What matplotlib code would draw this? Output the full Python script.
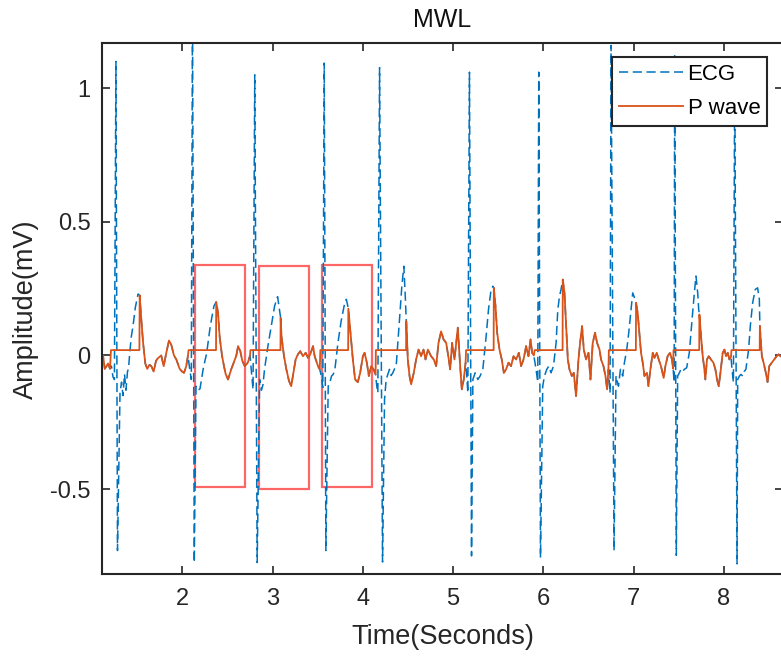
import matplotlib
matplotlib.use("Agg")
import matplotlib.pyplot as plt
from matplotlib.patches import Rectangle
import numpy as np

plt.rcParams['font.family'] = ['Liberation Sans', 'DejaVu Sans']
plt.rcParams['axes.unicode_minus'] = False

# ECG samples (seconds, mV), one line per beat roughly
ecg_t = [1.100, 1.122, 1.141, 1.161, 1.177, 1.199, 1.215, 1.232, 1.248, 1.265, 1.282, 1.310, 1.327, 1.343, 1.360, 1.376, 1.393, 1.404, 1.418, 1.435, 1.454, 1.480, 1.510, 1.528, 1.545, 1.565, 1.590, 1.612, 1.637, 1.657, 1.683, 1.709, 1.731, 1.767, 1.794, 1.823, 1.853, 1.878, 1.908, 1.934, 1.971, 1.997, 2.019, 2.044, 2.063, 2.082, 2.100,
         2.113, 2.133, 2.152, 2.174, 2.196, 2.213, 2.232, 2.251, 2.271, 2.291, 2.306, 2.329, 2.351, 2.376, 2.396, 2.414, 2.440, 2.462, 2.481, 2.507, 2.544, 2.570, 2.599, 2.618, 2.643, 2.665, 2.692, 2.726, 2.751, 2.766, 2.784,
         2.803, 2.830, 2.857, 2.877, 2.894, 2.912, 2.949, 2.986, 3.023, 3.056, 3.090, 3.100, 3.126, 3.152, 3.182, 3.207, 3.226, 3.256, 3.281, 3.307, 3.337, 3.367, 3.393, 3.418, 3.449, 3.467, 3.504, 3.523, 3.543, 3.557,
         3.573, 3.591, 3.617, 3.636, 3.654, 3.674, 3.691, 3.724, 3.761, 3.802, 3.818, 3.840, 3.864, 3.890, 3.915, 3.945, 3.971, 4.001, 4.020, 4.045, 4.067, 4.093, 4.119, 4.142, 4.155, 4.167,
         4.186, 4.219, 4.241, 4.259, 4.278, 4.296, 4.314, 4.333, 4.352, 4.370, 4.389, 4.407, 4.433, 4.455, 4.471, 4.482, 4.499, 4.518, 4.536, 4.565, 4.591, 4.618, 4.646, 4.673, 4.695, 4.721, 4.757, 4.787, 4.813, 4.839, 4.868, 4.895, 4.924, 4.953, 4.968, 4.990, 5.016, 5.036, 5.053, 5.079, 5.097, 5.119, 5.139, 5.153, 5.164,
         5.182, 5.205, 5.220, 5.245, 5.275, 5.300, 5.330, 5.349, 5.367, 5.393, 5.422, 5.441, 5.452, 5.471, 5.489, 5.515, 5.540, 5.563, 5.588, 5.615, 5.643, 5.670, 5.699, 5.729, 5.754, 5.781, 5.810, 5.836, 5.859, 5.876, 5.895, 5.920, 5.939,
         5.950, 5.969, 5.994, 6.013, 6.039, 6.061, 6.086, 6.113, 6.142, 6.161, 6.180, 6.197, 6.216, 6.235, 6.253, 6.272, 6.290, 6.316, 6.338, 6.363, 6.390, 6.408, 6.430, 6.449, 6.474, 6.501, 6.523, 6.548, 6.574, 6.596, 6.623, 6.640, 6.667, 6.689, 6.707, 6.722, 6.732, 6.740,
         6.751, 6.784, 6.806, 6.833, 6.855, 6.880, 6.899, 6.925, 6.947, 6.972, 6.991, 7.017, 7.028, 7.046, 7.065, 7.083, 7.102, 7.121, 7.149, 7.165, 7.187, 7.213, 7.232, 7.257, 7.279, 7.304, 7.334, 7.353, 7.378, 7.404, 7.426, 7.439, 7.450,
         7.456, 7.474, 7.489, 7.508, 7.525, 7.544, 7.563, 7.589, 7.618, 7.636, 7.655, 7.674, 7.692, 7.711, 7.722, 7.730, 7.748, 7.767, 7.785, 7.796, 7.814, 7.833, 7.858, 7.885, 7.907, 7.925, 7.944, 7.963, 7.988, 8.007, 8.025, 8.044, 8.062, 8.080, 8.091, 8.107,
         8.121, 8.147, 8.154, 8.173, 8.190, 8.209, 8.226, 8.245, 8.275, 8.294, 8.320, 8.349, 8.375, 8.394, 8.400, 8.422, 8.441, 8.466, 8.485, 8.504, 8.533, 8.560, 8.585, 8.607, 8.629, 8.663]
ecg_mv = [-0.02, 0.00, -0.05, -0.04, -0.03, -0.05, -0.04, -0.08, -0.09, 1.10, -0.73, -0.14, -0.10, -0.15, -0.07, -0.13, -0.06, -0.05, 0.01, 0.07, 0.11, 0.18, 0.23, 0.225, 0.14, 0.05, -0.03, -0.05, -0.035, -0.04, -0.06, -0.02, -0.01, 0.00, -0.04, 0.01, 0.056, 0.04, 0.00, -0.015, -0.05, -0.06, -0.065, -0.04, 0.00, -0.05, -0.09,
          1.30, -0.775, -0.115, -0.13, -0.125, -0.09, -0.05, -0.02, 0.01, 0.06, 0.10, 0.145, 0.185, 0.20, 0.16, 0.07, 0.00, -0.04, -0.07, -0.09, -0.05, -0.027, 0.00, 0.035, 0.016, -0.02, -0.04, -0.027, 0.00, -0.06, -0.127,
          1.05, -0.775, -0.09, -0.13, -0.11, -0.05, 0.035, 0.11, 0.185, 0.22, 0.14, 0.07, 0.00, -0.05, -0.095, -0.115, -0.077, -0.015, 0.004, 0.016, -0.003, 0.01, -0.009, 0.004, 0.035, -0.003, -0.04, -0.052, -0.08, -0.12,
          1.094, -0.73, -0.115, -0.10, -0.077, -0.07, -0.052, 0.045, 0.13, 0.20, 0.21, 0.175, 0.085, -0.015, -0.09, -0.10, -0.065, -0.003, 0.01, -0.027, -0.077, -0.04, -0.052, -0.071, -0.115, -0.14,
          1.077, -0.773, -0.165, -0.09, -0.07, -0.052, -0.075, -0.065, -0.05, -0.04, 0.047, 0.135, 0.26, 0.334, 0.22, 0.128, -0.015, -0.077, -0.108, -0.065, -0.015, 0.022, -0.003, 0.022, -0.015, 0.022, -0.003, -0.015, -0.04, 0.047, 0.09, 0.06, 0.047, -0.015, -0.052, 0.047, -0.015, 0.05, 0.104, -0.04, -0.127, -0.09, -0.027, -0.08, -0.14,
          1.06, -0.75, -0.09, -0.065, -0.09, -0.077, -0.052, 0.01, 0.072, 0.172, 0.247, 0.259, 0.253, 0.184, 0.085, 0.022, -0.015, -0.065, -0.052, -0.027, -0.04, -0.003, -0.015, 0.01, -0.04, -0.015, 0.035, -0.003, 0.06, 0.01, 0.00, -0.052, -0.10,
          1.06, -0.757, -0.115, -0.077, -0.052, -0.04, -0.065, -0.04, 0.047, 0.172, 0.222, 0.247, 0.284, 0.234, 0.11, -0.015, -0.052, -0.077, -0.065, -0.152, -0.015, 0.047, 0.11, 0.022, -0.015, 0.01, -0.09, 0.047, 0.085, 0.047, 0.022, -0.015, -0.04, -0.077, -0.127, -0.052, -0.10, -0.14,
          1.16, -0.73, -0.077, -0.115, -0.052, -0.077, -0.027, 0.022, 0.085, 0.172, 0.234, 0.21, 0.197, 0.16, 0.085, 0.01, -0.027, -0.077, -0.065, -0.115, -0.052, 0.01, -0.009, 0.01, -0.015, -0.04, -0.084, -0.04, -0.003, 0.01, -0.015, -0.05, -0.10,
          1.126, -0.748, -0.077, -0.065, -0.052, -0.06, -0.052, -0.046, 0.01, 0.085, 0.16, 0.234, 0.297, 0.234, 0.172, 0.153, 0.072, -0.003, -0.052, -0.09, -0.015, -0.003, -0.015, -0.027, -0.052, -0.09, -0.115, -0.065, 0.01, 0.022, -0.003, 0.01, -0.015, -0.005, -0.052, -0.10,
          1.05, -0.78, -0.09, -0.077, -0.071, -0.077, -0.06, -0.052, 0.022, 0.11, 0.197, 0.247, 0.253, 0.21, 0.11, -0.003, -0.027, -0.065, -0.10, -0.04, -0.027, -0.015, -0.003, 0.004, -0.003, -0.01]

# intervals where the P wave trace is held flat
flat_start = [1.21, 2.07, 2.755, 3.53, 4.145, 5.145, 5.905, 6.727, 7.443, 8.085]
flat_end = [1.525, 2.374, 3.088, 3.838, 4.480, 5.45, 6.214, 7.026, 7.728, 8.398]
flat_level = 0.02

# highlighted windows: x0, x1, y0, y1
box_x0 = [2.137, 2.853, 3.550]
box_x1 = [2.695, 3.407, 4.103]
box_y0 = [-0.492, -0.499, -0.492]
box_y1 = [0.340, 0.334, 0.340]

t = np.array(ecg_t)
v = np.array(ecg_mv)
inside = np.zeros(len(t), dtype=bool)
for a, b in zip(flat_start, flat_end):
    inside |= (t >= a) & (t <= b)
p_t = list(t[~inside]) + flat_start + flat_end
p_v = list(v[~inside]) + [flat_level] * (len(flat_start) + len(flat_end))
order = np.argsort(p_t, kind='stable')
p_t = np.array(p_t)[order]
p_v = np.array(p_v)[order]

fig = plt.figure(figsize=(7.81, 6.6), dpi=100)
ax = fig.add_axes([0.1302, 0.1298, 0.8728, 0.8046])

ax.plot(t, v, color='#0072BD', lw=1.1, linestyle=(0, (6, 3)), label='ECG')
ax.plot(p_t, p_v, color='#D95319', lw=1.3, label='P wave')

for x0, x1, y0, y1 in zip(box_x0, box_x1, box_y0, box_y1):
    ax.add_patch(Rectangle((x0, y0), x1 - x0, y1 - y0, fill=False,
                           edgecolor='red', alpha=0.6, lw=1.6))

ax.set_xlim(1.107, 8.66)
ax.set_ylim(-0.819, 1.168)
ax.set_xticks([2, 3, 4, 5, 6, 7, 8])
ax.set_yticks([-0.5, 0, 0.5, 1])
ax.set_yticklabels(['-0.5', '0', '0.5', '1'])
ax.tick_params(direction='in', top=True, right=True, length=6, width=1.2,
               labelsize=17, colors='#262626', pad=8)
ax.tick_params(axis='x', pad=10)
for s in ax.spines.values():
    s.set_linewidth(1.5)
    s.set_color('#262626')

ax.set_title('MWL', fontsize=18, color='#111111', pad=12)
ax.set_xlabel('Time(Seconds)', fontsize=19.5, color='#262626', labelpad=10)
ax.set_ylabel('Amplitude(mV)', fontsize=19.5, color='#262626', labelpad=8)

leg = ax.legend(loc='upper right', bbox_to_anchor=(0.976, 0.974), borderaxespad=0,
                fontsize=16, fancybox=False, framealpha=1, edgecolor='#262626',
                handlelength=2.9, handletextpad=0.2, borderpad=0.3, labelspacing=0.6)
leg.get_frame().set_linewidth(1.5)

fig.savefig('out.png', dpi=100)
